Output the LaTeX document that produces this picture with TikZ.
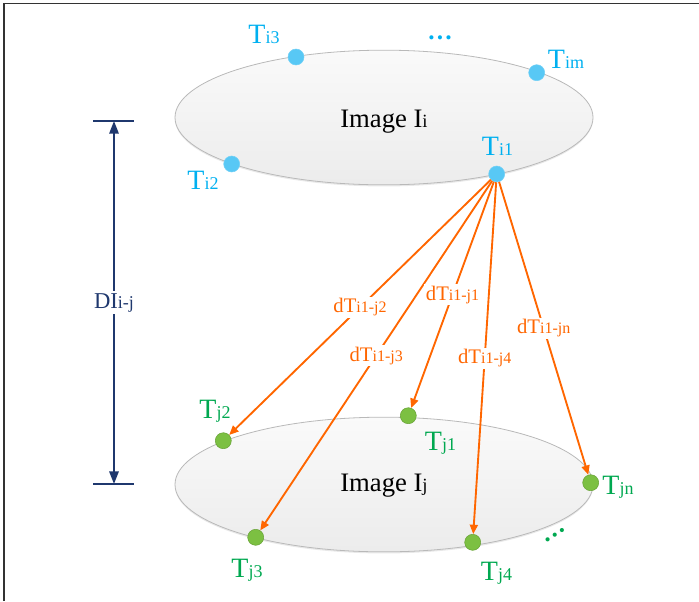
\documentclass[tikz,border=0pt]{standalone}
\usepackage{fontspec}
\setmainfont{Liberation Serif}
\usetikzlibrary{arrows.meta,shapes.geometric,shadows}
\definecolor{tblue}{RGB}{0,176,240}
\definecolor{dotblue}{RGB}{88,200,245}
\definecolor{tgreen}{RGB}{0,168,80}
\definecolor{dotgreen}{RGB}{124,192,66}
\definecolor{torange}{RGB}{255,102,0}
\definecolor{navyc}{RGB}{31,56,110}
\newcommand\mixlab[4]{{\fontsize{#1}{#1}\selectfont #3}{\fontsize{#2}{#2}\selectfont #4}}
\newcommand\ellip{{\fontsize{19}{19}\selectfont\bfseries\char"2026}}
\begin{document}
\begin{tikzpicture}[x=0.75pt,y=-0.75pt,
  imgell/.style={ellipse, minimum width=313.5pt, minimum height=101pt, inner sep=0pt,
    draw=gray!55, line width=0.6pt, top color=gray!4, bottom color=gray!15,
    drop shadow={opacity=0.18, shadow xshift=0pt, shadow yshift=-1.2pt}},
  bdot/.style={circle, fill=dotblue, draw=dotblue!85!white, line width=0.4pt, minimum size=12pt, inner sep=0pt},
  gdot/.style={circle, fill=dotgreen, draw=dotgreen!85!black, line width=0.4pt, minimum size=12pt, inner sep=0pt},
  blab/.style={text=tblue, anchor=base, inner sep=0pt},
  glab/.style={text=tgreen, anchor=base, inner sep=0pt},
  imglab/.style={text=black, anchor=base, inner sep=0pt},
  oarrow/.style={draw=torange, line width=1.4pt, -{Triangle[length=7pt,width=6pt]}},
  olab/.style={text=torange, fill=white, inner sep=1.2pt, pos=0.5},
  narrow/.style={draw=navyc, line width=1.5pt, {Triangle[length=9.5pt,width=7pt]}-{Triangle[length=9.5pt,width=7pt]}},
]
\useasboundingbox (0,0) rectangle (699,601);
\draw[line width=1.3pt, black!80] (4,601) -- (4,3.5) -- (699,3.5);

% ellipses
\node[imgell] (eI) at (384,117.5) {};
\node[imgell] (eJ) at (384,484.5) {};
\node[imglab] (tI) at (384,127) {\mixlab{20}{14}{Image I}{i}};
\node[imglab] (tJ) at (384,491) {\mixlab{20}{14}{Image I}{j}};

% blue dots
\node[bdot] (ti3) at (296,57) {};
\node[bdot] (tim) at (536.7,72.7) {};
\node[bdot] (ti2) at (231.7,164) {};
\node[bdot] (ti1) at (496.7,174) {};
\node[blab] (lti3) at (264,43) {\mixlab{21}{13.5}{T}{i3}};
\node[blab] (ltim) at (566,68) {\mixlab{21}{13.5}{T}{im}};
\node[blab] (lti2) at (203,189) {\mixlab{21}{13.5}{T}{i2}};
\node[blab] (lti1) at (497.5,155) {\mixlab{21}{13.5}{T}{i1}};
\node[text=tblue, inner sep=0pt] (bdots) at (440,38) {\ellip};

% green dots
\node[gdot] (tj2) at (223.3,440.7) {};
\node[gdot] (tj1) at (408.3,415.7) {};
\node[gdot] (tjn) at (590.7,482.7) {};
\node[gdot] (tj3) at (255.7,537.3) {};
\node[gdot] (tj4) at (472.7,542.3) {};
\node[glab] (ltj2) at (215,418.5) {\mixlab{21}{13.5}{T}{j2}};
\node[glab] (ltj1) at (440.5,450) {\mixlab{21}{13.5}{T}{j1}};
\node[glab] (ltjn) at (618,494) {\mixlab{21}{13.5}{T}{jn}};
\node[glab] (ltj3) at (247,577) {\mixlab{21}{13.5}{T}{j3}};
\node[glab] (ltj4) at (496.5,580.5) {\mixlab{21}{13.5}{T}{j4}};
\node[text=tgreen, inner sep=0pt, rotate=33] (gdots) at (555.5,535) {\ellip};

% orange arrows
\draw[oarrow] (ti1) -- (tj2) node[olab] (d2) {\mixlab{15.5}{12}{dT}{i1-j2}};
\draw[oarrow] (ti1) -- (tj3) node[olab] (d3) {\mixlab{15.5}{12}{dT}{i1-j3}};
\draw[oarrow] (ti1) -- (tj1) node[olab] (d1) {\mixlab{15.5}{12}{dT}{i1-j1}};
\draw[oarrow] (ti1) -- (tj4) node[olab] (d4) {\mixlab{15.5}{12}{dT}{i1-j4}};
\draw[oarrow] (ti1) -- (tjn) node[olab] (dn) {\mixlab{15.5}{12}{dT}{i1-jn}};

% dimension
\coordinate (dtop) at (114,121);
\coordinate (dbot) at (114,484);
\coordinate (dtl) at (93,121);
\coordinate (dtr) at (134,121);
\coordinate (dbl) at (93,484);
\coordinate (dbr) at (134,484);
\draw[navyc, line width=1.5pt] (dtl) -- (dtr);
\draw[navyc, line width=1.5pt] (dbl) -- (dbr);
\draw[narrow] (dtop) -- (dbot) node[pos=0.5, fill=white, text=navyc, inner sep=1.5pt] (dlab) {\mixlab{17}{13.5}{DI}{i-j}};
\end{tikzpicture}
\end{document}
